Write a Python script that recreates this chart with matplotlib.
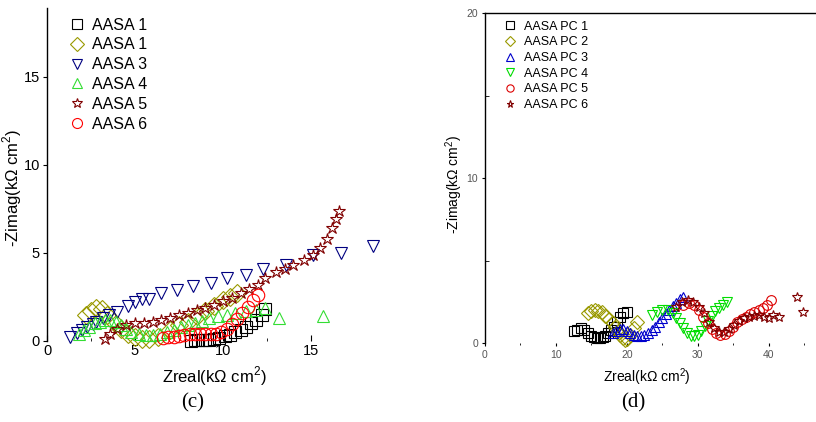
import matplotlib
matplotlib.use("Agg")
import matplotlib.pyplot as plt
from matplotlib.ticker import MultipleLocator, FixedLocator

plt.rcParams['font.family'] = ['Liberation Sans', 'DejaVu Sans']
plt.rcParams['mathtext.fontset'] = 'custom'
plt.rcParams['mathtext.rm'] = 'Liberation Sans'

# ---- panel (c) data ----
c_labels = ["AASA 1", "AASA 1", "AASA 3", "AASA 4", "AASA 5", "AASA 6"]

c1_x = [8.2, 8.4, 8.6, 8.8, 9.0, 9.2, 9.5, 9.8, 10.1, 10.4, 10.7, 11.0, 11.3, 11.6, 11.9, 12.2, 12.4]
c1_y = [0.02, 0.03, 0.04, 0.05, 0.06, 0.08, 0.12, 0.18, 0.26, 0.36, 0.5, 0.65, 0.82, 1.0, 1.2, 1.45, 1.8]

c2_x = [2.2, 2.5, 2.8, 3.1, 3.4, 3.8, 4.2, 4.6, 5.0, 5.4, 5.8, 6.3, 7.0, 7.5, 8.0, 8.5, 9.0, 9.5, 10.0, 10.4, 10.8]
c2_y = [1.5, 1.7, 1.9, 1.8, 1.5, 1.1, 0.7, 0.4, 0.2, 0.1, 0.1, 0.2, 0.6, 0.9, 1.1, 1.4, 1.7, 2.0, 2.3, 2.5, 2.7]

c3_x = [1.3, 1.7, 2.0, 2.3, 2.6, 2.8, 3.2, 3.5, 4.0, 4.6, 5.0, 5.4, 5.8, 6.5, 7.4, 8.3, 9.3, 10.2, 11.3, 12.3, 13.6, 15.1, 16.7, 18.5]
c3_y = [0.2, 0.45, 0.6, 0.8, 0.95, 1.1, 1.3, 1.5, 1.65, 2.0, 2.2, 2.4, 2.4, 2.7, 2.9, 3.1, 3.3, 3.6, 3.75, 4.1, 4.3, 4.9, 5.0, 5.4]

c4_x = [1.8, 2.1, 2.4, 2.7, 3.0, 3.3, 3.6, 3.9, 4.2, 4.5, 4.8, 5.2, 5.6, 6.0, 6.4, 6.8, 7.2, 7.6, 8.0, 8.4, 8.8, 9.2, 9.7, 10.2, 10.7, 11.3, 11.9, 12.4, 13.2, 15.7]
c4_y = [0.4, 0.6, 0.8, 1.0, 1.1, 1.2, 1.2, 1.1, 0.9, 0.7, 0.5, 0.4, 0.35, 0.35, 0.4, 0.5, 0.6, 0.8, 0.9, 1.0, 1.15, 1.3, 1.4, 1.5, 1.6, 1.7, 1.75, 1.9, 1.3, 1.4]

c5_x = [3.3, 3.6, 4.0, 4.5, 5.0, 5.5, 6.0, 6.5, 7.0, 7.5, 8.0, 8.5, 9.0, 9.5, 10.0, 10.5, 11.0, 11.5, 12.0, 12.4, 13.0, 13.5, 14.0, 14.6, 15.1, 15.5, 15.9, 16.2, 16.4, 16.6]
c5_y = [0.1, 0.4, 0.7, 0.9, 1.0, 1.05, 1.1, 1.2, 1.3, 1.45, 1.6, 1.75, 1.9, 2.05, 2.25, 2.45, 2.7, 2.95, 3.2, 3.6, 3.9, 4.1, 4.3, 4.6, 4.9, 5.3, 5.8, 6.4, 6.9, 7.4]

c6_x = [6.6, 6.9, 7.2, 7.5, 7.8, 8.1, 8.4, 8.7, 9.0, 9.3, 9.6, 9.9, 10.2, 10.5, 10.8, 11.1, 11.4, 11.7, 12.0]
c6_y = [0.15, 0.2, 0.25, 0.3, 0.35, 0.4, 0.42, 0.42, 0.4, 0.38, 0.4, 0.5, 0.7, 0.95, 1.25, 1.6, 1.95, 2.3, 2.6]

# ---- panel (d) data ----
d_labels = ["AASA PC 1", "AASA PC 2", "AASA PC 3", "AASA PC 4", "AASA PC 5", "AASA PC 6"]

d1_x = [12.6, 13.0, 13.5, 14.0, 14.5, 15.0, 15.4, 15.8, 16.2, 16.6, 17.0, 17.4, 17.8, 18.2, 18.6, 19.0, 19.4, 20.0]
d1_y = [0.7, 0.8, 0.9, 0.8, 0.6, 0.45, 0.35, 0.3, 0.3, 0.35, 0.45, 0.6, 0.8, 1.0, 1.3, 1.6, 1.8, 1.9]

d2_x = [14.5, 15.0, 15.5, 16.0, 16.5, 17.0, 17.5, 18.0, 18.4, 18.8, 19.1, 19.4, 19.7, 20.0, 20.5, 21.0, 21.5]
d2_y = [1.8, 1.95, 2.0, 1.95, 1.85, 1.65, 1.45, 1.2, 0.95, 0.7, 0.5, 0.3, 0.2, 0.25, 0.5, 0.9, 1.3]

d3_x = [18.0, 18.5, 19.0, 19.5, 20.0, 20.5, 21.0, 21.5, 22.0, 22.5, 23.0, 23.5, 24.0, 24.5, 25.0, 25.5, 26.0, 26.5, 27.0, 27.5, 28.0]
d3_y = [0.6, 0.75, 0.85, 0.85, 0.75, 0.6, 0.5, 0.45, 0.45, 0.5, 0.6, 0.8, 1.0, 1.25, 1.5, 1.75, 2.0, 2.25, 2.45, 2.65, 2.8]

d4_x = [23.5, 24.2, 25.0, 25.8, 26.5, 27.0, 27.5, 28.0, 28.5, 29.0, 29.5, 30.0, 30.5, 31.0, 31.5, 32.0, 32.5, 33.0, 33.6, 34.2]
d4_y = [1.7, 1.9, 2.0, 2.0, 1.8, 1.5, 1.2, 0.9, 0.6, 0.45, 0.4, 0.5, 0.75, 1.05, 1.35, 1.65, 1.95, 2.15, 2.3, 2.5]

d5_x = [28.0, 28.8, 29.5, 30.2, 30.8, 31.4, 32.0, 32.6, 33.2, 33.8, 34.4, 35.0, 35.6, 36.2, 36.8, 37.4, 38.0, 38.6, 39.2, 39.8, 40.3]
d5_y = [2.3, 2.4, 2.3, 2.0, 1.6, 1.2, 0.85, 0.6, 0.5, 0.55, 0.75, 1.0, 1.25, 1.45, 1.6, 1.75, 1.9, 2.0, 2.1, 2.3, 2.6]

d6_x = [27.0, 27.8, 28.6, 29.4, 30.2, 30.9, 31.6, 32.3, 33.0, 33.7, 34.4, 35.1, 35.8, 36.5, 37.2, 37.9, 38.6, 39.3, 40.0, 40.7, 41.5, 44.0, 44.8]
d6_y = [2.2, 2.5, 2.6, 2.5, 2.2, 1.8, 1.3, 0.9, 0.65, 0.65, 0.85, 1.1, 1.35, 1.5, 1.6, 1.65, 1.7, 1.6, 1.5, 1.7, 1.6, 2.8, 1.9]

W, H = 816, 422
fig = plt.figure(figsize=(W / 100, H / 100), dpi=100)

def px_axes(x0, y0, x1, y1):
    # pixel box (top-left origin) -> figure axes
    return fig.add_axes([x0 / W, 1 - y1 / H, (x1 - x0) / W, (y1 - y0) / H])

# ---------- panel (c) ----------
ax1 = px_axes(47, 8, 399, 341)
c_series = [(c1_x, c1_y), (c2_x, c2_y), (c3_x, c3_y), (c4_x, c4_y), (c5_x, c5_y), (c6_x, c6_y)]
c_markers = ['s', 'D', 'v', '^', '*', 'o']
c_colors = ['black', '#999900', '#000080', '#33dd33', '#800000', '#ff0000']
for (xs, ys), m, col, lab in zip(c_series, c_markers, c_colors, c_labels):
    ax1.plot(xs, ys, linestyle='none', marker=m, markersize=9, mfc='none',
             mec=col, mew=0.8, label=lab, clip_on=False)

ax1.set_xlim(0, 20)
ax1.set_ylim(0, 18.9)
for s in ['top', 'right', 'bottom']:
    ax1.spines[s].set_visible(False)
ax1.spines['left'].set_linewidth(1.0)
ax1.set_xticks([0, 5, 10, 15])
ax1.xaxis.set_minor_locator(FixedLocator([2.5, 7.5, 12.5]))
ax1.yaxis.set_major_locator(MultipleLocator(5))
ax1.tick_params(axis='x', direction='in', length=4, labelsize=10.5, pad=2)
ax1.tick_params(axis='x', which='minor', direction='in', length=2)
ax1.tick_params(axis='y', direction='out', length=3, labelsize=10.5, pad=2)
ax1.set_xlabel("Zreal(k\u03a9 cm$^2$)", fontsize=12)
ax1.xaxis.set_label_coords(0.476, -0.07)
ax1.set_ylabel("-Zimag(k\u03a9 cm$^2$)", fontsize=12)
ax1.yaxis.set_label_coords(-0.066, 0.46)
ax1.legend(loc='upper left', bbox_to_anchor=(0.03, 1.0), frameon=False,
           fontsize=11.5, handletextpad=0.35, labelspacing=0.3, borderaxespad=0.2,
           markerscale=0.8, handlelength=1.2)
fig.text(193 / W, 1 - 403 / H, "(c)", family='Liberation Serif', fontsize=15,
         ha='center', va='center')

# ---------- panel (d) ----------
ax2 = px_axes(485, 13, 816, 343)
d_series = [(d1_x, d1_y), (d2_x, d2_y), (d3_x, d3_y), (d4_x, d4_y), (d5_x, d5_y), (d6_x, d6_y)]
d_markers = ['s', 'D', '^', 'v', 'o', '*']
d_colors = ['black', '#999900', '#0000cc', '#00dd00', '#dd0000', '#800000']
for (xs, ys), m, col, lab in zip(d_series, d_markers, d_colors, d_labels):
    ax2.plot(xs, ys, linestyle='none', marker=m, markersize=7, mfc='none',
             mec=col, mew=0.8, label=lab, clip_on=False)

ax2.set_xlim(0, 46.7)
ax2.set_ylim(0, 20)
for s in ['right', 'bottom']:
    ax2.spines[s].set_visible(False)
ax2.spines['left'].set_linewidth(1.0)
ax2.spines['top'].set_linewidth(1.0)
ax2.xaxis.set_major_locator(MultipleLocator(10))
ax2.xaxis.set_minor_locator(MultipleLocator(5))
ax2.yaxis.set_major_locator(MultipleLocator(10))
ax2.yaxis.set_minor_locator(MultipleLocator(5))
ax2.tick_params(axis='both', which='major', labelsize=7.5, labelcolor='#555555', length=2, pad=3)
ax2.tick_params(axis='x', which='minor', direction='out', length=1.5)
ax2.tick_params(axis='y', which='minor', direction='in', length=3)
ax2.set_xlabel("Zreal(k\u03a9 cm$^2$)", fontsize=10)
ax2.xaxis.set_label_coords(0.49, -0.07)
ax2.set_ylabel("-Zimag(k\u03a9 cm$^2$)", fontsize=10)
ax2.yaxis.set_label_coords(-0.06, 0.48)
ax2.legend(loc='upper left', bbox_to_anchor=(0.03, 1.0), frameon=False,
           fontsize=9, handletextpad=0.5, labelspacing=0.3, borderaxespad=0.2,
           markerscale=0.75, handlelength=1.2)
fig.text(633 / W, 1 - 403 / H, "(d)", family='Liberation Serif', fontsize=15,
         ha='center', va='center')

fig.savefig("out.png", dpi=100)
